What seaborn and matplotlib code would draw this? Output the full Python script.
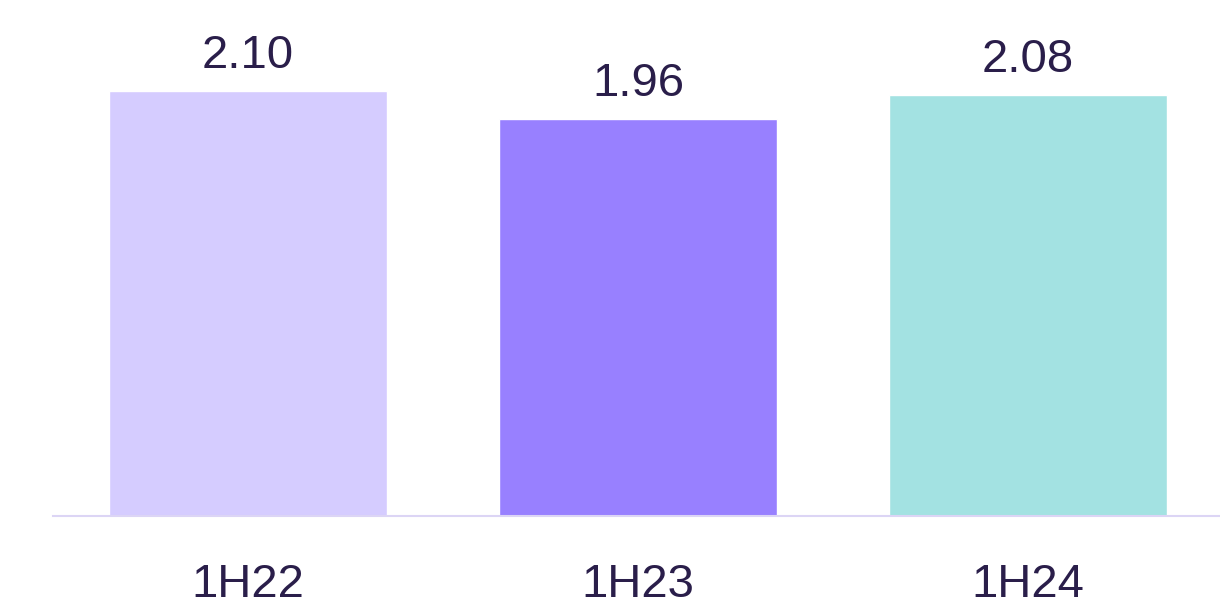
import matplotlib
matplotlib.use('Agg')
import matplotlib.pyplot as plt
import seaborn as sns
import pandas as pd

periods = ['1H22', '1H23', '1H24']
values = [2.10, 1.96, 2.08]
bar_colors = ['#D5CCFF', '#9880FF', '#A3E2E2']
text_color = '#2A1E4A'

sns.set_style('white')
plt.rcParams['font.family'] = ['Liberation Sans', 'DejaVu Sans']

df = pd.DataFrame({'period': periods, 'value': values})

fig = plt.figure(figsize=(12.2, 6.07), dpi=100)
ax = fig.add_axes([53 / 1220, 91 / 607, 1170 / 1220, 516 / 607])

sns.barplot(data=df, x='period', y='value', hue='period', palette=bar_colors,
            width=0.713, saturation=1, legend=False, ax=ax)

ax.set_xlim(-0.5, 2.5)
ax.set_ylim(0, 2.55)

# value labels above each bar
for i, v in enumerate(values):
    ax.text(i, v + 0.065, f'{v:.2f}', ha='center', va='bottom',
            fontsize=34, color=text_color)

ax.set_xlabel('')
ax.set_ylabel('')
ax.set_yticks([])
ax.tick_params(axis='x', length=0, pad=34, labelsize=34, labelcolor=text_color)
for s in ['top', 'right', 'left']:
    ax.spines[s].set_visible(False)
ax.spines['bottom'].set_color('#DCD5F5')
ax.spines['bottom'].set_linewidth(1.5)

plt.savefig('out.png', dpi=100)
